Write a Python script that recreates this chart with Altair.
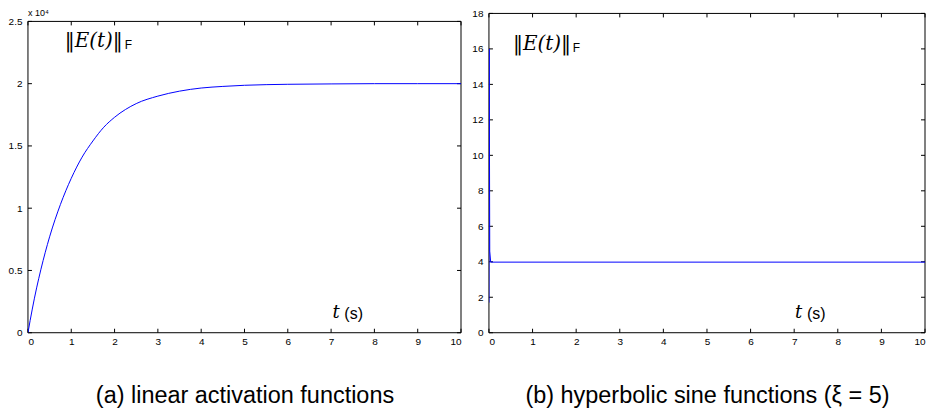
import altair as alt
import pandas as pd

# ---- data ----
t_lin = [0, 0.1, 0.2, 0.3, 0.5, 0.75, 1, 1.25, 1.5, 1.75, 2, 2.5, 3, 3.5, 4, 4.5, 5, 6, 7, 8, 9, 10]
e_lin = [0, 0.19, 0.36, 0.51, 0.77, 1.03, 1.24, 1.41, 1.54, 1.65, 1.73, 1.84, 1.90, 1.94, 1.965,
         1.978, 1.987, 1.995, 1.998, 2.0, 2.0, 2.0]          # x 10^4

t_sinh = [0, 0.006, 0.018, 0.04, 10]
e_sinh = [1.7, 16.0, 4.6, 3.98, 3.98]

x_ticks = [0, 1, 2, 3, 4, 5, 6, 7, 8, 9, 10]
y_ticks_lin = [0, 0.5, 1, 1.5, 2, 2.5]
y_ticks_sinh = [0, 2, 4, 6, 8, 10, 12, 14, 16, 18]

captions = ["(a) linear activation functions", "(b) hyperbolic sine functions (\u03be = 5)"]
exp_label = "x 10\u2074"
norm_label = "\u2016E(t)\u2016"
sub_label = "F"
t_label = "t"
s_label = "(s)"

TICK = 4
FONT = "Liberation Sans"
H = 320


def panel(t, e, ydom, ytop, yticks, yfmt, caption, w, norm_pos, tlab_pos, interp, exp=None):
    xs = alt.Scale(domain=[0, 10], nice=False, zero=False)
    ys = alt.Scale(domain=[0, ydom], nice=False, zero=False)
    x_axis = alt.Axis(values=x_ticks, title=caption, titleFontSize=23.5, titleFont=FONT,
                      titleFontWeight="normal", titleColor="black", titlePadding=37,
                      labelPadding=4, format="d")
    y_axis = alt.Axis(values=yticks, title=None, labelPadding=6, format=yfmt)

    def X(f):
        return alt.X(f, scale=xs, axis=x_axis)

    def Y(f):
        return alt.Y(f, scale=ys, axis=y_axis)

    line_df = pd.DataFrame({"t": t, "e": e})
    line = alt.Chart(line_df).mark_line(color="#0000ff", strokeWidth=1, interpolate=interp,
                                        clip=True).encode(x=X("t:Q"), y=Y("e:Q"))

    # frame
    fdf = pd.DataFrame({"x0": [0], "x1": [10], "y0": [0], "y1": [ytop]})
    rk = dict(color="black", strokeWidth=1)
    fb = alt.Chart(fdf).mark_rule(**rk).encode(x=X("x0:Q"), x2="x1:Q", y=Y("y0:Q"))
    ft = alt.Chart(fdf).mark_rule(**rk).encode(x=X("x0:Q"), x2="x1:Q", y=Y("y1:Q"))
    fl = alt.Chart(fdf).mark_rule(**rk).encode(x=X("x0:Q"), y=Y("y0:Q"), y2="y1:Q")
    fr = alt.Chart(fdf).mark_rule(**rk).encode(x=X("x1:Q"), y=Y("y0:Q"), y2="y1:Q")

    # inward ticks
    xt = pd.DataFrame({"v": x_ticks, "b": [0] * len(x_ticks), "tp": [ytop] * len(x_ticks)})
    yt = pd.DataFrame({"v": yticks, "l": [0] * len(yticks), "r": [10] * len(yticks)})
    bx = alt.Chart(xt).mark_rule(**rk, y2Offset=-TICK).encode(x=X("v:Q"), y=Y("b:Q"), y2="b:Q")
    tx = alt.Chart(xt).mark_rule(**rk, y2Offset=TICK).encode(x=X("v:Q"), y=Y("tp:Q"), y2="tp:Q")
    ly = alt.Chart(yt).mark_rule(**rk, x2Offset=TICK).encode(y=Y("v:Q"), x=X("l:Q"), x2="l:Q")
    ry = alt.Chart(yt).mark_rule(**rk, x2Offset=-TICK).encode(y=Y("v:Q"), x=X("r:Q"), x2="r:Q")

    ndf = pd.DataFrame({"x": [norm_pos[0]], "y": [norm_pos[1]], "a": [norm_label], "b": [sub_label]})
    norm = alt.Chart(ndf).mark_text(font="DejaVu Serif", fontStyle="italic", fontSize=20,
                                    align="left", baseline="middle", color="black").encode(
        x=X("x:Q"), y=Y("y:Q"), text="a:N")
    sub = alt.Chart(ndf).mark_text(font=FONT, fontSize=12, align="left", baseline="middle",
                                   color="black", dx=60, dy=4).encode(
        x=X("x:Q"), y=Y("y:Q"), text="b:N")

    tdf = pd.DataFrame({"x": [tlab_pos[0]], "y": [tlab_pos[1]], "a": [t_label], "b": [s_label]})
    tl = alt.Chart(tdf).mark_text(font="DejaVu Serif", fontStyle="italic", fontSize=18,
                                  align="left", baseline="middle", color="black").encode(
        x=X("x:Q"), y=Y("y:Q"), text="a:N")
    sl = alt.Chart(tdf).mark_text(font=FONT, fontSize=16, align="left", baseline="middle",
                                  color="black", dx=12, dy=1).encode(
        x=X("x:Q"), y=Y("y:Q"), text="b:N")

    layers = [fb, ft, fl, fr, bx, tx, ly, ry, norm, sub, tl, sl]
    if exp is not None:
        edf = pd.DataFrame({"x": [0], "y": [ytop], "a": [exp]})
        layers.append(alt.Chart(edf).mark_text(font=FONT, fontSize=9, align="left", baseline="bottom",
                                               color="black", dy=-3).encode(
            x=X("x:Q"), y=Y("y:Q"), text="a:N"))
    layers.append(line)
    return alt.layer(*layers).properties(width=w, height=H)


left = panel(t_lin, e_lin, 2.5 * 320 / 312, 2.5, y_ticks_lin, "~g", captions[0], 434,
             (0.85, 2.34), (7.03, 0.16), "monotone", exp=exp_label)
right = panel(t_sinh, e_sinh, 18, 18, y_ticks_sinh, "d", captions[1], 437,
              (0.55, 16.3), (7.02, 1.12), "linear")

chart = alt.hconcat(left, right, spacing=9).properties(
    padding={"left": 0, "top": 0, "right": 0, "bottom": 0}
).configure_view(stroke=None).configure_axis(
    domain=False, grid=False, ticks=False, tickSize=0, labelFont=FONT, labelFontSize=10,
    labelColor="black"
)

chart.save("out.html", embed_options={"renderer": "svg", "actions": False})
